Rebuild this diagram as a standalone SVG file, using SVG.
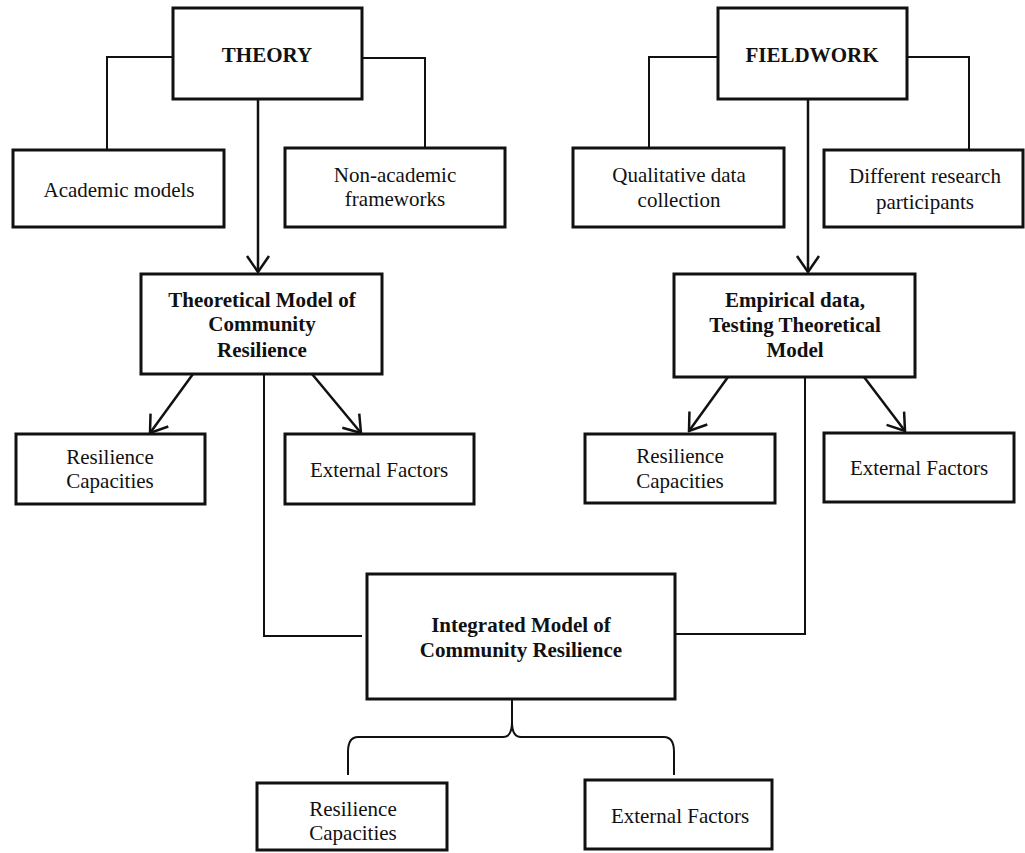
<svg xmlns="http://www.w3.org/2000/svg" width="1025" height="853" viewBox="0 0 1025 853">
<style>
.box{fill:#fff;stroke:#111;stroke-width:3}
.t{font-family:'Liberation Serif','Times New Roman',Times,'DejaVu Serif',serif;font-size:21px;fill:#111;text-anchor:middle}
.b{font-weight:bold}
.ln{fill:none;stroke:#111;stroke-width:2}
.ar{fill:none;stroke:#111;stroke-width:2.5}
</style>
<defs>
<marker id="v" markerUnits="userSpaceOnUse" viewBox="-18 -13 20 26" refX="0" refY="0" markerWidth="20" markerHeight="26" orient="auto">
<path d="M-16,-11 L0,0 L-16,11" fill="none" stroke="#111" stroke-width="2.5"/>
</marker>
</defs>
<rect width="1025" height="853" fill="#fff"/>
<g id="connectors">
<polyline class="ln" points="173,57 107,57 107,149"/>
<polyline class="ln" points="362,58 425,58 425,148"/>
<polyline class="ln" points="718,57 649,57 649,147"/>
<polyline class="ln" points="907,57 969,57 969,149"/>
<line class="ar" x1="258" y1="99" x2="258" y2="272" marker-end="url(#v)"/>
<line class="ar" x1="808" y1="99" x2="808" y2="272" marker-end="url(#v)"/>
<line class="ar" x1="193" y1="374" x2="150" y2="433" marker-end="url(#v)"/>
<line class="ar" x1="312" y1="374" x2="361" y2="433" marker-end="url(#v)"/>
<line class="ar" x1="728" y1="377" x2="689" y2="431" marker-end="url(#v)"/>
<line class="ar" x1="864" y1="377" x2="905" y2="431" marker-end="url(#v)"/>
<polyline class="ln" points="264,367 264,636 362,636"/>
<polyline class="ln" points="805,367 805,634 676,634"/>
<path class="ln" d="M512,700 L512,722 Q512,737 503,737 L358,737 Q348,737 348,752 L348,775"/>
<path class="ln" d="M512,722 Q512,737 521,737 L664,737 Q674,737 674,752 L674,775"/>
</g>
<g id="theory"><rect class="box" x="173" y="8" width="189" height="91"/><text class="t b" x="267" y="62" font-family="Liberation Serif, serif">THEORY</text></g>
<g id="fieldwork"><rect class="box" x="718" y="8" width="189" height="91"/><text class="t b" x="812" y="62">FIELDWORK</text></g>
<g id="academic"><rect class="box" x="13" y="150" width="211" height="77"/><text class="t" x="119" y="197">Academic models</text></g>
<g id="nonacademic"><rect class="box" x="285" y="148" width="220" height="79"/><text class="t" x="395" y="182">Non-academic</text><text class="t" x="395" y="206">frameworks</text></g>
<g id="qualitative"><rect class="box" x="573" y="148" width="211" height="79"/><text class="t" x="679" y="182">Qualitative data</text><text class="t" x="679" y="207">collection</text></g>
<g id="participants"><rect class="box" x="824" y="150" width="199" height="77"/><text class="t" x="925" y="183">Different research</text><text class="t" x="925" y="209">participants</text></g>
<g id="theoretical"><rect class="box" x="141" y="274" width="241" height="100"/><text class="t b" x="262" y="307">Theoretical Model of</text><text class="t b" x="262" y="331">Community</text><text class="t b" x="262" y="357">Resilience</text></g>
<g id="empirical"><rect class="box" x="674" y="274" width="241" height="103"/><text class="t b" x="795" y="307">Empirical data,</text><text class="t b" x="795" y="332">Testing Theoretical</text><text class="t b" x="795" y="357">Model</text></g>
<g id="res-left"><rect class="box" x="16" y="434" width="189" height="70"/><text class="t" x="110" y="464">Resilience</text><text class="t" x="110" y="488">Capacities</text></g>
<g id="ext-left"><rect class="box" x="285" y="434" width="189" height="70"/><text class="t" x="379" y="477">External Factors</text></g>
<g id="res-right"><rect class="box" x="585" y="434" width="190" height="69"/><text class="t" x="680" y="463">Resilience</text><text class="t" x="680" y="488">Capacities</text></g>
<g id="ext-right"><rect class="box" x="824" y="433" width="190" height="69"/><text class="t" x="919" y="475">External Factors</text></g>
<g id="integrated"><rect class="box" x="367" y="574" width="308" height="125"/><text class="t b" x="521" y="632">Integrated Model of</text><text class="t b" x="521" y="657">Community Resilience</text></g>
<g id="res-bottom"><rect class="box" x="257" y="783" width="190" height="67"/><text class="t" x="353" y="816">Resilience</text><text class="t" x="353" y="840">Capacities</text></g>
<g id="ext-bottom"><rect class="box" x="585" y="780" width="187" height="69"/><text class="t" x="680" y="823">External Factors</text></g>
</svg>
